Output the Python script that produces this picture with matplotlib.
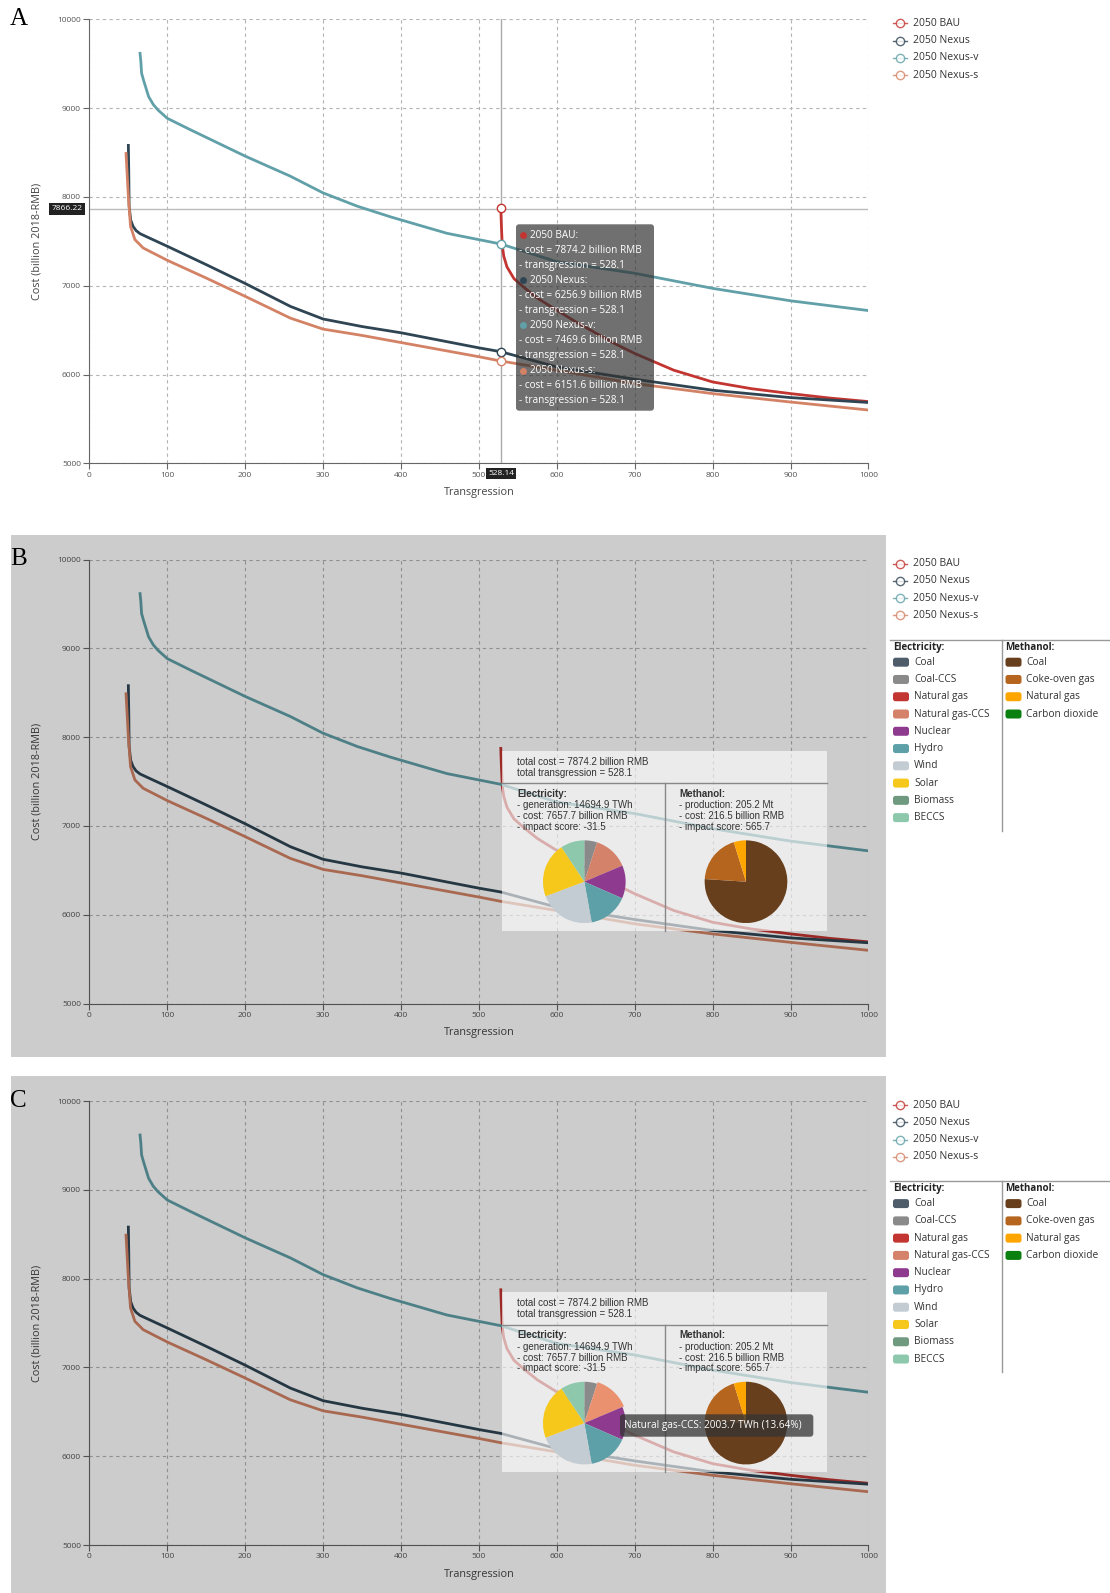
import matplotlib
matplotlib.use("Agg")
import matplotlib.pyplot as plt
from matplotlib.patches import Rectangle, FancyBboxPatch

W, H = 1110, 1593

# cost curves (transgression vs cost, billion 2018-RMB)
bau_x = [528.1, 529, 530, 532, 536, 545, 557, 575, 600, 625, 651, 675, 700, 750, 800, 850, 900, 950, 1000]
bau_y = [7874.2, 7650, 7450, 7330, 7212, 7080, 6987, 6860, 6724, 6590, 6462, 6345, 6237, 6049, 5916, 5840, 5785, 5735, 5695]

nexus_x = [50, 50.5, 51, 53, 56, 60, 65, 75, 100, 150, 200, 258, 300, 350, 400, 450, 500, 528.1, 600, 700, 800, 900, 1000]
nexus_y = [8580, 8300, 7895, 7740, 7669, 7620, 7586, 7545, 7444, 7237, 7025, 6767, 6625, 6540, 6470, 6385, 6300, 6256.9, 6085, 5947, 5823, 5740, 5685]

nexusv_x = [65, 66, 67, 70, 76, 82, 88, 100, 129, 200, 258, 300, 344, 387, 459, 528.1, 600, 700, 800, 900, 1000]
nexusv_y = [9617, 9530, 9392, 9300, 9130, 9040, 8979, 8885, 8759, 8459, 8233, 8045, 7895, 7774, 7590, 7469.6, 7270, 7140, 6970, 6830, 6720]

nexuss_x = [47, 48.5, 50, 52.8, 58.4, 69, 100, 150, 200, 258, 300, 350, 400, 450, 500, 528.1, 600, 700, 800, 900, 1000]
nexuss_y = [8489, 8250, 8008, 7669, 7519, 7425, 7286, 7086, 6880, 6635, 6511, 6440, 6360, 6280, 6200, 6151.6, 6048, 5898, 5785, 5690, 5600]

series_names = ["2050 BAU", "2050 Nexus", "2050 Nexus-v", "2050 Nexus-s"]
series_colors = ["#c23531", "#2f4554", "#61a0a8", "#d48265"]
series_x = [bau_x, nexus_x, nexusv_x, nexuss_x]
series_y = [bau_y, nexus_y, nexusv_y, nexuss_y]

# hovered point
hover_x = 528.14
hover_cost = [7874.2, 6256.9, 7469.6, 6151.6]

# pie data at the hovered point
elec_labels = ["Coal", "Coal-CCS", "Natural gas", "Natural gas-CCS", "Nuclear", "Hydro", "Wind", "Solar", "Biomass", "BECCS"]
elec_colors = ["#4f5d6b", "#8a8a8a", "#c23531", "#d4826a", "#8e3b8f", "#5ea0a8", "#c4ccd3", "#f5c81b", "#6f9a80", "#8dc8ad"]
elec_twh = [0, 735, 0, 2003.7, 1900, 2290, 3250, 3150, 0, 1366]

meth_labels = ["Coal", "Coke-oven gas", "Natural gas", "Carbon dioxide"]
meth_colors = ["#683f1c", "#b5651d", "#ffa500", "#0a8010"]
meth_mt = [156.0, 39.4, 9.8, 0]

SANS = "Open Sans"
ARIAL = "Liberation Sans"

fig = plt.figure(figsize=(W / 100, H / 100), dpi=100)


def frac(x0, y0, x1, y1):
    return [x0 / W, 1 - y1 / H, (x1 - x0) / W, (y1 - y0) / H]


def pixel_axes(z):
    a = fig.add_axes([0, 0, 1, 1], zorder=z)
    a.set_xlim(0, W)
    a.set_ylim(H, 0)
    a.axis("off")
    a.patch.set_alpha(0)
    return a


def chart(off):
    ax = fig.add_axes(frac(89.4, 19.3 + off, 868.4, 463.3 + off))
    ax.set_facecolor("none")
    for xs, ys, c in zip(series_x, series_y, series_colors):
        ax.plot(xs, ys, color=c, lw=2, zorder=3)
    ax.set_xlim(0, 1000)
    ax.set_ylim(5000, 10000)
    ax.set_xticks(range(0, 1001, 100))
    ax.set_yticks(range(5000, 10001, 1000))
    ax.grid(True, color="#b4b4b4", lw=0.8, ls=(0, (3, 3)))
    for s in ["top", "right"]:
        ax.spines[s].set_visible(False)
    for s in ["left", "bottom"]:
        ax.spines[s].set_color("#666")
        ax.spines[s].set_linewidth(0.8)
    ax.tick_params(length=4, width=0.8, color="#666", labelsize=6, labelcolor="#555", pad=2)
    for lab in ax.get_xticklabels() + ax.get_yticklabels():
        lab.set_family(SANS)
    ax.set_xlabel("Transgression", fontsize=7.8, color="#444", labelpad=6, family=SANS)
    ax.set_ylabel("Cost (billion 2018-RMB)", fontsize=7.8, color="#444", labelpad=11, family=SANS)
    return ax


offs = [0, 540.3, 1081.7]
axA = chart(offs[0])
axB = chart(offs[1])
axC = chart(offs[2])

# crosshair + hover markers on A
axA.axvline(hover_x, color="#aaa", lw=1, zorder=2)
axA.axhline(7866.22, color="#bbb", lw=1, zorder=2)
for c, v in zip(series_colors, hover_cost):
    axA.plot([hover_x], [v], marker="o", ms=6, mfc="white", mec=c, mew=1, zorder=5)

# grey modal overlay on B and C
for y0, y1 in [(535, 1057), (1076, 1593)]:
    fig.add_artist(Rectangle((11 / W, 1 - y1 / H), (886 - 11) / W, (y1 - y0) / H,
                             transform=fig.transFigure, fc="black", alpha=0.2, ec="none", zorder=1))

ui = pixel_axes(2)
top = pixel_axes(4)

# panel letters
for lab, off in zip("ABC", offs):
    ui.text(10, 8 + off, lab, fontsize=18, family="Liberation Serif", va="top", ha="left")

# series legends
for off in offs:
    for i, (name, c) in enumerate(zip(series_names, series_colors)):
        y = 23.4 + off + 17.2 * i
        ui.plot([893, 907], [y, y], color=c, lw=1, alpha=0.8)
        ui.plot([900], [y], marker="o", ms=6, mfc="white", mec=c, mew=1, alpha=0.8)
        ui.text(913, y, name, fontsize=7.5, color="#333", va="center", family=SANS)

# crosshair labels A
ui.text(67, 209, "7866.22", fontsize=6, color="white", ha="center", va="center", family=SANS,
        bbox=dict(boxstyle="square,pad=0.25", fc="#222", ec="none"))
ui.text(501, 473.5, "528.14", fontsize=6, color="white", ha="center", va="center", family=SANS,
        bbox=dict(boxstyle="square,pad=0.25", fc="#222", ec="none"))

# tooltip A
ui.add_patch(FancyBboxPatch((516, 224.3), 138, 186.4, boxstyle="round,pad=0,rounding_size=3",
                            fc="#333", alpha=0.7, ec="none"))
for i, (name, c, v) in enumerate(zip(series_names, series_colors, hover_cost)):
    y = 235 + 45.2 * i
    ui.plot([523.3], [y], marker="o", ms=5, color=c, mec="none")
    ui.text(530, y, name + ":", fontsize=7.2, color="white", va="center", family=SANS)
    ui.text(519, y + 15.1, "- cost = %.1f billion RMB" % v, fontsize=7.2, color="white", va="center", family=SANS)
    ui.text(519, y + 30.2, "- transgression = 528.1", fontsize=7.2, color="white", va="center", family=SANS)


def pie_tooltip(dy, highlight=False):
    ui.add_patch(Rectangle((502, 751 + dy), 325, 180, fc="white", alpha=0.62, ec="none"))
    ui.plot([502, 827], [783.3 + dy] * 2, color="#888", lw=1)
    ui.plot([665, 665], [783.3 + dy, 931 + dy], color="#888", lw=1)
    kw = dict(fontsize=7, color="#333", va="center", family=ARIAL)
    ui.text(517, 762 + dy, "total cost = 7874.2 billion RMB", **kw)
    ui.text(517, 772.7 + dy, "total transgression = 528.1", **kw)
    ui.text(517, 794 + dy, "Electricity:", fontweight="bold", **kw)
    ui.text(517, 805.5 + dy, "- generation: 14694.9 TWh", **kw)
    ui.text(517, 816.3 + dy, "- cost: 7657.7 billion RMB", **kw)
    ui.text(517, 827 + dy, "- impact score: -31.5", **kw)
    ui.text(679, 794 + dy, "Methanol:", fontweight="bold", **kw)
    ui.text(679, 805.5 + dy, "- production: 205.2 Mt", **kw)
    ui.text(679, 816.3 + dy, "- cost: 216.5 billion RMB", **kw)
    ui.text(679, 827 + dy, "- impact score: 565.7", **kw)

    for cx, vals, cols in [(584.3, elec_twh, elec_colors), (746, meth_mt, meth_colors)]:
        pa = fig.add_axes(frac(cx - 43, 881.7 + dy - 43, cx + 43, 881.7 + dy + 43), zorder=3)
        wedges, _ = pa.pie(vals, colors=cols, startangle=90, counterclock=False,
                           wedgeprops=dict(linewidth=0))
        pa.set_xlim(-1.04, 1.04)
        pa.set_ylim(-1.04, 1.04)
        pa.set_aspect("equal")
        pa.axis("off")
        if highlight and cols is elec_colors:
            wedges[3].set_facecolor("#ea9170")
            wedges[3].set_radius(1.04)


def source_legend(dy):
    ui.plot([890, 1110], [640 + dy] * 2, color="#999", lw=1)
    ui.plot([1001.5, 1001.5], [640 + dy, 831 + dy], color="#999", lw=1)
    for x0, title, labels, cols in [(893, "Electricity:", elec_labels, elec_colors),
                                    (1005.5, "Methanol:", meth_labels, meth_colors)]:
        ui.text(x0, 647.5 + dy, title, fontsize=7, fontweight="bold", color="#222", va="center", family=SANS)
        for i, (lab, c) in enumerate(zip(labels, cols)):
            y = 662.2 + dy + 17.27 * i
            ui.add_patch(FancyBboxPatch((x0, y - 4.5), 16, 9, boxstyle="round,pad=0,rounding_size=2.5",
                                        fc=c, ec="none"))
            ui.text(x0 + 21, y, lab, fontsize=7.3, color="#333", va="center", family=SANS)


pie_tooltip(0)
source_legend(0)
pie_tooltip(541.4, highlight=True)
source_legend(541.4)

# hover label on the Natural gas-CCS slice in C (above the pies)
top.add_patch(FancyBboxPatch((620, 1414.3), 193.3, 22.4, boxstyle="round,pad=0,rounding_size=3",
                             fc="#333", alpha=0.75, ec="none"))
top.text(624, 1425.5, "Natural gas-CCS: 2003.7 TWh (13.64%)", fontsize=7.2, color="white",
         va="center", family=SANS)

fig.savefig("out.png", dpi=100)
